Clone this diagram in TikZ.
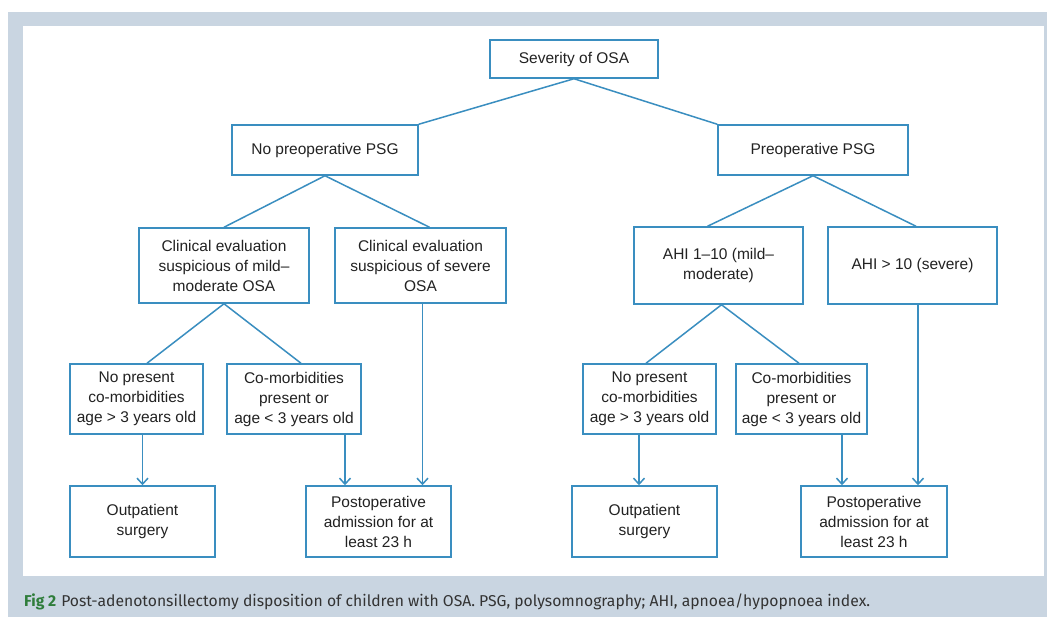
\documentclass[tikz,border=0pt]{standalone}
\usepackage{fontspec}
\setmainfont{Liberation Sans}
\newfontfamily\capfont{Fira Sans}
\usetikzlibrary{arrows.meta,calc}
\definecolor{bgpanel}{HTML}{C9D5E1}
\definecolor{boxline}{HTML}{3A8EC0}
\definecolor{txt}{HTML}{222222}
\definecolor{figgreen}{HTML}{2F7D3B}
\definecolor{captxt}{HTML}{333333}
\tikzset{
  box/.style={draw=boxline, line width=1.5pt, fill=white, align=center, text=txt,
    font=\fontsize{15.5}{20}\selectfont, inner sep=0pt, anchor=center},
  link/.style={draw=boxline, line width=1.5pt},
  arr/.style={link, -{Straight Barb[length=6pt,width=11pt,line width=1.5pt]}}
}
\begin{document}
\begin{tikzpicture}[x=1pt,y=-1pt]
\useasboundingbox (0,0) rectangle (1047,617);
\fill[bgpanel] (8,12) rectangle (1047,617);
\fill[white] (23,26) rectangle (1044,576);
% level 0
\node[box, minimum width=168pt, minimum height=38pt] (sev) at (574,59) {Severity of OSA};
% level 1
\node[box, minimum width=186pt, minimum height=50pt] (nopsg) at (325,150) {No preoperative PSG};
\node[box, minimum width=190pt, minimum height=50pt] (psg) at (813,150) {Preoperative PSG};
% level 2
\node[box, minimum width=170pt, minimum height=75pt] (cem) at (224,265.5) {Clinical evaluation\\suspicious of mild--\\moderate OSA};
\node[box, minimum width=171pt, minimum height=75pt] (ces) at (420.5,265.5) {Clinical evaluation\\suspicious of severe\\OSA};
\node[box, minimum width=169pt, minimum height=77pt] (ahim) at (718.5,265.5) {AHI 1--10 (mild--\\moderate)};
\node[box, minimum width=169pt, minimum height=77pt] (ahis) at (912.5,265.5) {AHI > 10 (severe)};
% level 3
\node[box, minimum width=133pt, minimum height=70pt] (npa) at (136.5,399) {No present\\co-morbidities\\age > 3 years old};
\node[box, minimum width=134pt, minimum height=70pt] (cma) at (294,399) {Co-morbidities\\present or\\age < 3 years old};
\node[box, minimum width=133pt, minimum height=70pt] (npb) at (649.5,399) {No present\\co-morbidities\\age > 3 years old};
\node[box, minimum width=131pt, minimum height=70pt] (cmb) at (801.5,399) {Co-morbidities\\present or\\age < 3 years old};
% level 4
\node[box, minimum width=145pt, minimum height=71pt] (outa) at (142.5,521.5) {Outpatient\\surgery};
\node[box, minimum width=145pt, minimum height=71pt] (poa) at (378.5,521.5) {Postoperative\\admission for at\\least 23 h};
\node[box, minimum width=145pt, minimum height=71pt] (outb) at (644.5,521.5) {Outpatient\\surgery};
\node[box, minimum width=146pt, minimum height=71pt] (pob) at (874,521.5) {Postoperative\\admission for at\\least 23 h};
% connectors
\draw[link] (nopsg.north east) -- (sev.south) -- (psg.north west);
\draw[link] (cem.north) -- (nopsg.south) -- ($(ces.north)+(9,0)$);
\draw[link] ($(ahim.north)+(-11,0)$) -- (psg.south) -- ($(ahis.north)+(3.5,0)$);
\draw[link] ($(npa.north)+(10.5,0)$) -- (cem.south) -- ($(cma.north)+(7,0)$);
\draw[link] ($(npb.north)+(-3.5,0)$) -- ($(ahim.south)+(3,0)$) -- ($(cmb.north)+(-2.5,0)$);
% arrows
\draw[arr] (outa.north |- npa.south) -- (outa.north);
\draw[arr] ($(cma.south)+(51,0)$) -- ($(poa.north)+(-33.5,0)$);
\draw[arr] ($(ces.south)+(2,0)$) -- ($(poa.north)+(44,0)$);
\draw[arr] ($(npb.south)+(-10.5,0)$) -- ($(outb.north)+(-5.5,0)$);
\draw[arr] ($(cmb.south)+(40.5,0)$) -- ($(pob.north)+(-32,0)$);
\draw[arr] ($(ahis.south)+(5.5,0)$) -- ($(pob.north)+(44,0)$);
% caption
\node[anchor=base west, inner sep=0pt, font=\capfont\fontsize{15.7}{18}\selectfont, text=captxt] (cap) at (24,606)
  {\textcolor{figgreen}{\bfseries Fig 2}\hspace{5pt}Post-adenotonsillectomy disposition of children with OSA. PSG, polysomnography; AHI, apnoea/hypopnoea index.};
\end{tikzpicture}
\end{document}
